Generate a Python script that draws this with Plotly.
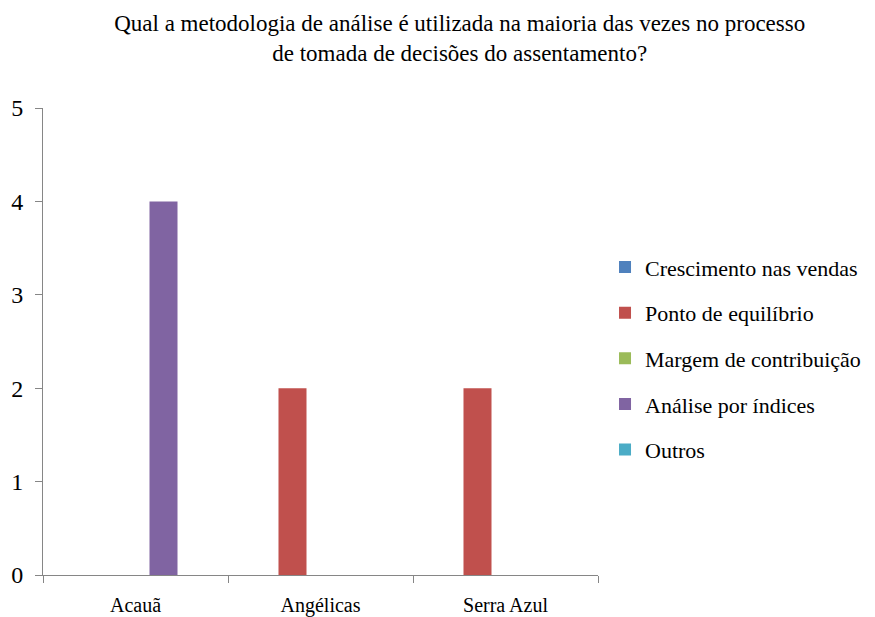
import plotly.graph_objects as go

categories = ["Acauã", "Angélicas", "Serra Azul"]
series_names = ["Crescimento nas vendas", "Ponto de equilíbrio", "Margem de contribuição",
                "Análise por índices", "Outros"]
crescimento = [0, 0, 0]
ponto = [0, 2, 2]
margem = [0, 0, 0]
analise = [4, 0, 0]
outros = [0, 0, 0]
series_values = [crescimento, ponto, margem, analise, outros]
colors = ["#4F81BD", "#C0504D", "#9BBB59", "#8064A2", "#4BACC6"]
y_ticks = [0, 1, 2, 3, 4, 5]

FONT = "Liberation Serif"

fig = go.Figure()
for i, (name, vals) in enumerate(zip(series_names, series_values)):
    fig.add_trace(go.Bar(x=categories, y=vals, name=name, marker_color=colors[i],
                         marker_line_width=0, legendgroup=f"g{i}"))

fig.update_layout(
    width=867, height=609,
    paper_bgcolor="white", plot_bgcolor="white",
    font=dict(family=FONT, color="black", size=21),
    title=dict(text="Qual a metodologia de análise é utilizada na maioria das vezes no processo<br>de tomada de decisões do assentamento?",
               x=0.521, xref="container", xanchor="center", y=0.962, yanchor="top",
               font=dict(family=FONT, size=23, color="black")),
    margin=dict(l=35, r=277, t=100, b=42),
    barmode="group", bargap=0.243, bargroupgap=0,
    showlegend=True,
    legend=dict(x=0.6886, xanchor="left", xref="container", y=0.464, yanchor="middle", yref="paper",
                font=dict(family=FONT, size=22, color="black"),
                tracegroupgap=14, traceorder="grouped", itemwidth=30,
                bgcolor="rgba(0,0,0,0)"),
)
fig.update_xaxes(type="category", showline=True, linecolor="#868686", linewidth=1,
                 ticks="outside", tickson="boundaries", ticklen=7, tickcolor="#868686",
                 showgrid=False, automargin=False, ticklabelstandoff=12,
                 tickfont=dict(family=FONT, size=20, color="black"))
fig.update_yaxes(range=[0, 5], tickvals=y_ticks, showline=True, linecolor="#868686", linewidth=1,
                 ticks="outside", ticklen=7, tickcolor="#868686", showgrid=False, zeroline=False,
                 automargin=False, ticklabelstandoff=7,
                 tickfont=dict(family=FONT, size=24, color="black"))

fig.write_html("out.html")
